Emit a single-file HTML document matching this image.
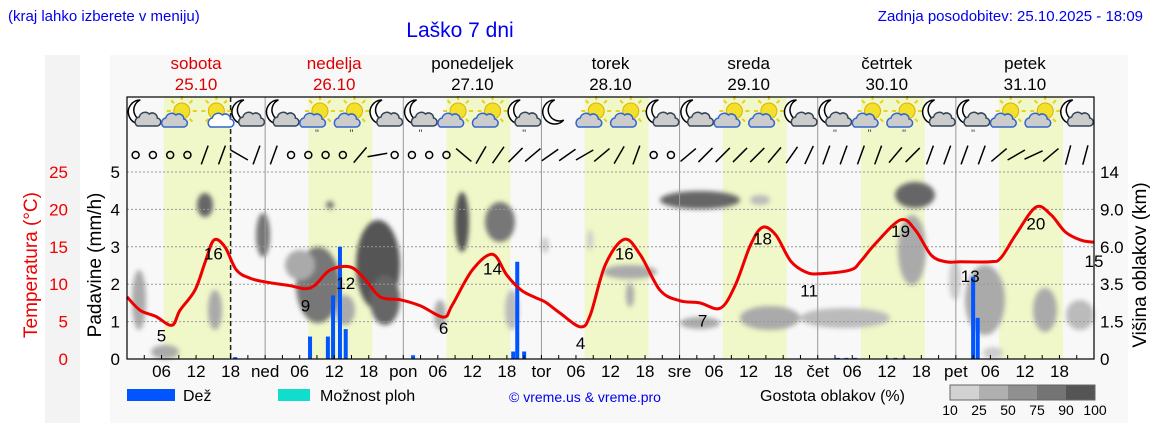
<!DOCTYPE html>
<html><head><meta charset="utf-8"><style>
body{margin:0;background:#fff;width:1152px;height:443px;overflow:hidden;font-family:"Liberation Sans",sans-serif}
svg text{font-family:"Liberation Sans","DejaVu Sans",sans-serif}
</style></head><body>
<svg id="c" width="1152" height="443" viewBox="0 0 1152 443" xmlns="http://www.w3.org/2000/svg">
<defs>
<filter id="bl" x="-50%" y="-50%" width="200%" height="200%"><feGaussianBlur stdDeviation="2.5"/></filter>
</defs>
<rect x="45" y="55" width="35" height="368" fill="#f3f3f3"/>
<rect x="110" y="55" width="1018" height="368" fill="#f8f8f8"/>
<text x="8" y="21" font-size="15" fill="#0000ee">(kraj lahko izberete v meniju)</text>
<text x="460" y="37" font-size="21" fill="#0000ee" text-anchor="middle">Laško 7 dni</text>
<text x="1143" y="21" font-size="15" fill="#0000ee" text-anchor="end">Zadnja posodobitev: 25.10.2025 - 18:09</text>
<g id="bands"></g>
<g id="clouds" filter="url(#bl)"></g>
<g id="grid"></g>
<g id="icons"></g>
<g id="wind"></g>
<g id="bars"></g>
<g id="temp"></g>
<g id="axes"></g>
<text transform="translate(37,265) rotate(-90)" font-size="19" fill="#ee0000" text-anchor="middle">Temperatura (°C)</text>
<text transform="translate(101,265) rotate(-90)" font-size="19" fill="#000" text-anchor="middle">Padavine (mm/h)</text>
<text transform="translate(1146,265) rotate(-90)" font-size="19" fill="#000" text-anchor="middle">Višina oblakov (km)</text>
<rect x="127" y="389" width="48" height="12" fill="#0055ff"/>
<text x="183" y="401" font-size="16">Dež</text>
<rect x="278" y="389" width="32" height="12" fill="#11ddcc"/>
<text x="320" y="401" font-size="16">Možnost ploh</text>
<text x="585" y="402" font-size="14" fill="#0000ee" text-anchor="middle">© vreme.us &amp; vreme.pro</text>
<text x="760" y="401" font-size="16">Gostota oblakov (%)</text>
<g id="scale"></g>
</svg>
<script>
const NS='http://www.w3.org/2000/svg';
const dayNames=['sobota','nedelja','ponedeljek','torek','sreda','četrtek','petek'];
const dayDates=['25.10','26.10','27.10','28.10','29.10','30.10','31.10'];
const dayAbbr=['','ned','pon','tor','sre','čet','pet'];
const tempHours=[0,2.3,5,7.8,9.2,11.8,13.6,15.1,17,19,21.4,24,28.3,31,32.7,35.3,38.8,41.4,44,47.6,51,55,56.5,60,63.5,66,68.5,71,72.7,75.3,78.8,80.5,83.1,86.4,89.2,92.6,96,99.5,103.1,105.7,108.3,110.4,112.7,115.3,118,120.5,125.7,127.5,130,134.4,137,139.7,142.3,144.9,150,151.8,154.4,157.9,160.5,163,165.7,168];
const tempVals=[8.3,6.5,5.7,4.5,6.5,9.2,13,15.9,15,11.9,10.8,10.3,9.8,9.4,9.9,11.9,12.3,10.6,8.3,7.9,7.1,5.6,7.2,11.9,14.0,11.2,9.2,8.2,7.6,6.1,4.3,5.9,12.6,16,13.9,9.2,7.8,7.5,6.8,9.9,15.2,17.6,16.6,13.1,11.6,11.4,11.9,13.1,15.4,18.6,17.2,13.9,13,13,13,13.5,16.6,20.3,19.3,17,15.9,15.6];
const labelHours=[6,15,31,38,55,63.5,78.8,86.4,100,110.4,118.5,134.4,146.5,157.9,168];
const labelVals=[5,16,9,12,6,14,4,16,7,18,11,19,13,20,15];
const rainHours=[18.8,31.8,34.9,35.8,37,38,49.7,67.1,67.8,69,123.5,125,126.5,132,133.5,135,147,147.8];
const rainVals=[0.05,0.6,0.6,1.7,3.0,0.8,0.1,0.2,2.6,0.2,0.03,0.03,0.03,0.03,0.03,0.03,2.2,1.1];
const precipTicks=[0,1,2,3,4,5];
const tempTicks=[0,5,10,15,20,25];
const heightTicks=['0','1.5','3.5','6.0','9.0','14'];
const iconTypes=['M','S','S2','M','M','SR','SR','M','MR','S','S','MR','Mo','S','S','M','M','S','S','M','MR','SR','SR','M','MR','S','S','M'];
const windDirs=['o','o','o','o',40,40,-60,40,40,'o','o','o','o',20,-20,'o','o','o','o',-70,30,25,15,10,5,5,0,10,30,40,'o','o',10,15,15,15,15,20,25,35,40,40,40,40,20,15,40,40,40,40,10,0,-5,10,45,45];
const scaleLabels=['10','25','50','75','90','100'];
const scaleColors=['#d2d2d2','#b0b0b0','#909090','#747474','#555555'];
const X0=127,X1=1094,Y0=359,YT=97;
const xh=h=>X0+h*(X1-X0)/168;
const yP=p=>Y0-p*37.4;
const yT=t=>Y0-t*7.48;
function el(tag,attrs,parent,text){const e=document.createElementNS(NS,tag);for(const k in attrs)e.setAttribute(k,attrs[k]);if(text!==undefined)e.textContent=text;document.getElementById(parent).appendChild(e);return e;}
for(let d=0;d<7;d++){
  const s=d===0?6.4:7.5, e=d===0?18.1:18.6;
  const r=el('rect',{x:xh(24*d+s),y:YT,width:xh(24*d+e)-xh(24*d+s),height:Y0-YT,fill:'#f0f7c8'},'bands');
  
  
  const c=xh(24*d+12), col=d<2?'#dd0000':'#000';
  const t1=el('text',{x:c,y:69,'font-size':17,fill:col,'text-anchor':'middle'},'bands',dayNames[d]);
  
  
  const t2=el('text',{x:c,y:90,'font-size':17,fill:col,'text-anchor':'middle'},'bands',dayDates[d]);
  
  
  if(d>0){const l=el('line',{x1:xh(24*d),x2:xh(24*d),y1:YT,y2:Y0,stroke:'#999','stroke-width':1},'grid');
    
    }
}
const blobs=[[139,300,7,30,'#aaa'],[165,352,14,7,'#aaa'],[205,205,8,12,'#666'],[215,310,7,20,'#aaa'],[263,235,7,22,'#777'],[318,285,22,38,'#777'],[300,265,15,15,'#aaa'],[330,205,4,4,'#777'],[378,265,22,45,'#555'],[385,300,15,25,'#666'],[345,310,10,15,'#aaa'],[462,222,7,30,'#555'],[500,222,15,20,'#777'],[512,310,7,20,'#bbb'],[440,315,6,15,'#aaa'],[545,245,4,8,'#ccc'],[630,272,27,7,'#aaa'],[630,295,4,12,'#aaa'],[590,240,3,10,'#ccc'],[700,200,40,9,'#666'],[760,200,10,5,'#bbb'],[700,323,20,6,'#aaa'],[770,318,30,12,'#aaa'],[845,318,45,10,'#bbb'],[915,195,20,13,'#666'],[912,250,14,35,'#aaa'],[955,280,6,20,'#ccc'],[985,300,20,35,'#aaa'],[993,353,10,6,'#ccc'],[1045,310,12,22,'#aaa'],[1080,315,14,15,'#bbb']];
blobs.forEach(b=>{const e=el('ellipse',{cx:b[0],cy:b[1],rx:b[2],ry:b[3],fill:b[4]},'clouds');
  
  });
precipTicks.forEach((p,i)=>{
  if(p>0){const g=el('line',{x1:X0,x2:X1,y1:yP(p),y2:yP(p),stroke:'#999','stroke-dasharray':'2,2'},'grid');
    
    }
  const a=el('text',{x:120,y:yP(p)+6,'font-size':17,'text-anchor':'end'},'axes',String(p));
  
  
  const b=el('text',{x:68,y:yP(p)+6,'font-size':17,fill:'#ee0000','text-anchor':'end'},'axes',String(tempTicks[i]));
  
  
  const c=el('text',{x:1100,y:yP(p)+6,'font-size':17},'axes',heightTicks[i]);
  
  
});
const dash=el('line',{x1:xh(18),x2:xh(18),y1:YT,y2:Y0,stroke:'#222','stroke-width':1.5,'stroke-dasharray':'5,3'},'grid');


for(let h=3;h<168;h+=3){const t=el('line',{x1:xh(h),x2:xh(h),y1:Y0,y2:Y0-4,stroke:'#000'},'axes');
  
  
  let lab=null;
  if(h%24===0)lab=dayAbbr[h/24];else if(h%6===0)lab=String(h%24).padStart(2,'0');
  if(lab){const tx=el('text',{x:xh(h),y:377,'font-size':17,'text-anchor':'middle'},'axes',lab);
    
    }
}
const fr=el('rect',{x:X0,y:YT,width:X1-X0,height:Y0-YT,fill:'none',stroke:'#000','stroke-width':1.2},'axes');


function cloud(g,cx,cy,fill,stroke){const p=document.createElementNS(NS,'path');
  p.setAttribute('d',`M${cx-11},${cy+7} a5,5 0 0 1 2,-9 a6,6 0 0 1 10,-3 a5,5 0 0 1 8,4 a4,4 0 0 1 -1,8 z`);
  p.setAttribute('fill',fill);p.setAttribute('stroke',stroke);p.setAttribute('stroke-width',1.5);g.appendChild(p);}
iconTypes.forEach((t,i)=>{
  const cx=xh(3+6*i), cy=115;
  const g=el('g',{},'icons');
  
  
  if(t[0]==='M'){const m=document.createElementNS(NS,'path');
    m.setAttribute('d',`M${cx-4},${cy-15} a12,12 0 1 0 9,20 a10,10 0 0 1 -9,-20 z`);
    m.setAttribute('fill','#fff');m.setAttribute('stroke','#000');m.setAttribute('stroke-width',1.5);g.appendChild(m);
    if(t!=='Mo')cloud(g,cx+4,cy+4,'#ccc','#345');}
  else{const s=document.createElementNS(NS,'circle');s.setAttribute('cx',cx+3);s.setAttribute('cy',cy-4);s.setAttribute('r',8);s.setAttribute('fill','#f2e02a');s.setAttribute('stroke','#e0b000');g.appendChild(s);
    for(let k=0;k<8;k++){const a=k*Math.PI/4,r=document.createElementNS(NS,'line');r.setAttribute('x1',cx+3+11*Math.cos(a));r.setAttribute('y1',cy-4+11*Math.sin(a));r.setAttribute('x2',cx+3+15*Math.cos(a));r.setAttribute('y2',cy-4+15*Math.sin(a));r.setAttribute('stroke','#e8d020');r.setAttribute('stroke-width',2);g.appendChild(r);}
    if(t==='S2')cloud(g,cx+8,cy+5,'#fff','#36c');else cloud(g,cx-4,cy+5,'#ccc','#36c');}
  if(t[1]==='R'){const r=document.createElementNS(NS,'text');r.setAttribute('x',cx);r.setAttribute('y',cy+22);r.setAttribute('font-size',11);r.setAttribute('fill','#246');r.setAttribute('text-anchor','middle');r.textContent='"';g.appendChild(r);}
});
windDirs.forEach((d,i)=>{
  const cx=xh(1.5+3*i), cy=155;
  if(d==='o'){const c=el('circle',{cx:cx,cy:cy,r:3.5,fill:'none',stroke:'#000','stroke-width':1.5},'wind');
    
    }
  else{const a=(-d-30)*Math.PI/180,L=10;
    const l=el('line',{x1:cx-L*Math.cos(a),y1:cy-L*Math.sin(a),x2:cx+L*Math.cos(a),y2:cy+L*Math.sin(a),stroke:'#000','stroke-width':1.5},'wind');
    
    }
});
rainHours.forEach((h,i)=>{const r=el('rect',{x:xh(h)-2,y:yP(rainVals[i]),width:4,height:Y0-yP(rainVals[i]),fill:'#0055ff'},'bars');
  
  });
const pts=tempHours.map((h,i)=>[xh(h),yT(tempVals[i])]);
let d='M'+pts[0][0]+','+pts[0][1];
for(let i=1;i<pts.length;i++){const p0=pts[i-1],p1=pts[i],pm=pts[i-2]||p0,pn=pts[i+1]||p1;
  d+=` C${p0[0]+(p1[0]-pm[0])/6},${p0[1]+(p1[1]-pm[1])/6} ${p1[0]-(pn[0]-p0[0])/6},${p1[1]-(pn[1]-p0[1])/6} ${p1[0]},${p1[1]}`;}
const tl=el('path',{d:d,fill:'none',stroke:'#ee0000','stroke-width':3},'temp');


labelHours.forEach((h,i)=>{const t=el('text',{x:xh(h),y:yT(labelVals[i])+20,'font-size':17,'text-anchor':'middle'},'temp',String(labelVals[i]));
  
  });
scaleColors.forEach((c,i)=>{const r=el('rect',{x:950+i*29,y:385,width:29,height:15,fill:c},'scale');
  
  });
const sb=el('rect',{x:950,y:385,width:145,height:15,fill:'none',stroke:'#666'},'scale');


scaleLabels.forEach((s,i)=>{const t=el('text',{x:950+i*29,y:415,'font-size':14,'text-anchor':'middle'},'scale',s);
  
  });
</script>
</body></html>
